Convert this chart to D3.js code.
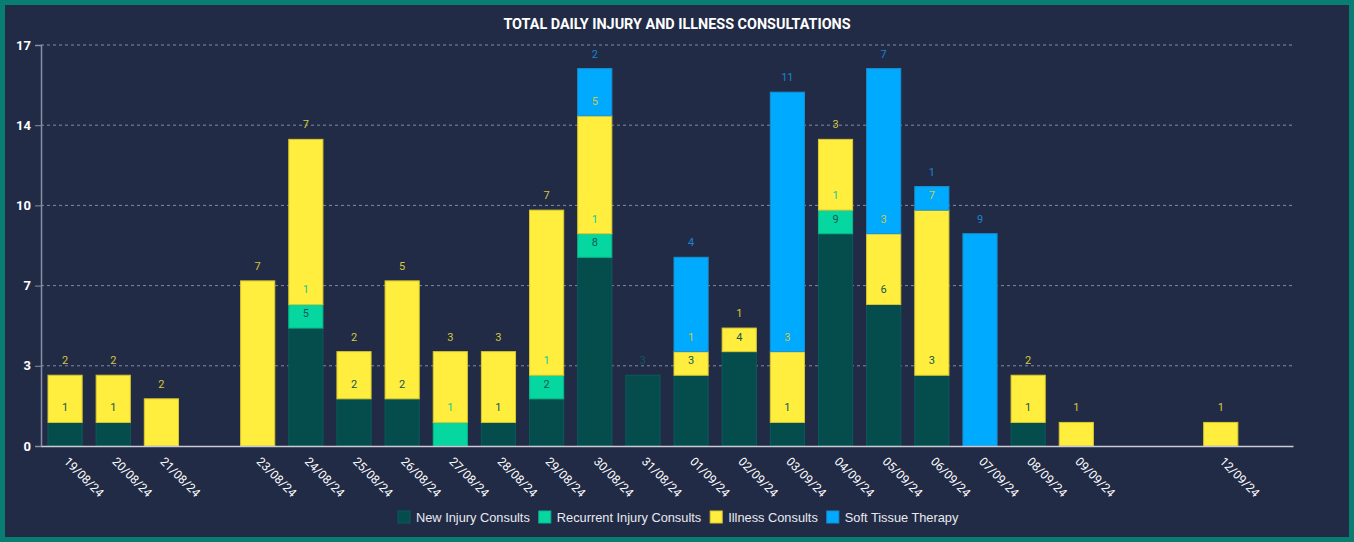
<!DOCTYPE html>
<html><head><meta charset="utf-8">
<script src="https://cdn.jsdelivr.net/npm/d3@7"></script>
<style>
html,body{margin:0;padding:0;background:#222b46;}
svg{display:block;font-family:Roboto,"Liberation Sans",Arial,sans-serif;}
</style></head>
<body>
<svg id="chart" width="1354" height="542"></svg>
<script>
const title = "TOTAL DAILY INJURY AND ILLNESS CONSULTATIONS";
const categories = ["19/08/24","20/08/24","21/08/24","22/08/24","23/08/24","24/08/24","25/08/24","26/08/24","27/08/24","28/08/24","29/08/24","30/08/24","31/08/24","01/09/24","02/09/24","03/09/24","04/09/24","05/09/24","06/09/24","07/09/24","08/09/24","09/09/24","10/09/24","11/09/24","12/09/24","13/09/24"];
const newInjury   = [1,1,0,0,0,5,2,2,0,1,2,8,3,3,4,1,9,6,3,0,1,0,0,0,0,0];
const recurrent   = [0,0,0,0,0,1,0,0,1,0,1,1,0,0,0,0,1,0,0,0,0,0,0,0,0,0];
const illness     = [2,2,2,0,7,7,2,5,3,3,7,5,0,1,1,3,3,3,7,0,2,1,0,0,1,0];
const softTissue  = [0,0,0,0,0,0,0,0,0,0,0,2,0,4,0,11,0,7,1,9,0,0,0,0,0,0];
const seriesNames = ["New Injury Consults","Recurrent Injury Consults","Illness Consults","Soft Tissue Therapy"];
const seriesColors = ["#054c4d","#06d6a0","#ffee3d","#00aaff"];
const strokeColors = ["#0a5a5a","#08b88a","#d9c930","#1a8fd0"];
const labelColors = ["#0d5858","#18c898","#d4c83a","#1a82cc"];
const yMax = 17;
const yTicks = [0,3.4,6.8,10.2,13.6,17];

(function(){
const svg = d3.select("#chart");
const W = 1354, H = 542;
svg.append("rect").attr("x",2.5).attr("y",2.5).attr("width",W-5).attr("height",H-5)
  .attr("fill","#222b46").attr("stroke","#0a7d72").attr("stroke-width",5);

const mLeft = 41, mRight = 1293, mTop = 45, mBottom = 446;
const x = d3.scaleBand().domain(categories).range([mLeft,mRight]).paddingInner(0.27).paddingOuter(0.135);
const y = d3.scaleLinear().domain([0,yMax]).range([mBottom,mTop]);

svg.append("text").attr("x",677).attr("y",28.5).attr("text-anchor","middle")
  .attr("fill","#ffffff").attr("font-size",14.4).attr("font-weight","bold").text(title);

svg.append("g").selectAll("line").data(yTicks.filter(d=>d>0)).join("line")
  .attr("x1",mLeft).attr("x2",mRight).attr("y1",d=>y(d)).attr("y2",d=>y(d))
  .attr("stroke","#9ea3b3").attr("stroke-width",1).attr("stroke-dasharray","3,3").attr("opacity",0.8);

const yAxis = svg.append("g").attr("transform",`translate(${mLeft},0)`)
  .call(d3.axisLeft(y).tickValues(yTicks).tickFormat(d3.format(".0f")).tickSize(6).tickPadding(4));
yAxis.select(".domain").attr("stroke","#8a8fa3").attr("stroke-width",1.5);
yAxis.selectAll(".tick line").attr("stroke","#8a8fa3");
yAxis.selectAll(".tick text").attr("fill","#ffffff").attr("font-size",13).attr("font-weight","bold")
  .attr("font-family","Roboto,'Liberation Sans',Arial,sans-serif");

const stackData = categories.map((c,i)=>{
  const vals=[newInjury[i],recurrent[i],illness[i],softTissue[i]];
  const o={cat:c}; seriesNames.forEach((s,k)=>o[s]=vals[k]); return o;});
const stacked = d3.stack().keys(seriesNames)(stackData);

const gBars = svg.append("g");
stacked.forEach((layer,k)=>{
  gBars.append("g").selectAll("rect").data(layer.filter(d=>d[1]-d[0]>0)).join("rect")
    .attr("x",d=>x(d.data.cat)+0.5).attr("width",x.bandwidth()-1)
    .attr("y",d=>y(d[1])).attr("height",d=>y(d[0])-y(d[1]))
    .attr("fill",seriesColors[k]).attr("stroke",strokeColors[k]).attr("stroke-width",1);
});

const xAxis = svg.append("g").attr("transform",`translate(0,${mBottom})`)
  .call(d3.axisBottom(x).tickSize(0).tickFormat((d,i)=>{
    const tot = newInjury[i]+recurrent[i]+illness[i]+softTissue[i];
    return tot>0 ? d : "";
  }));
xAxis.select(".domain").attr("stroke","#c9ccd4").attr("stroke-width",1.5);
xAxis.selectAll(".tick text").attr("fill","#ffffff").attr("font-size",12)
  .attr("font-family","Roboto,'Liberation Sans',Arial,sans-serif")
  .attr("text-anchor","start").attr("transform","translate(1,19) rotate(45)").attr("dy",0).attr("y",0).attr("x",-4);

stacked.forEach((layer,k)=>{
  svg.append("g").selectAll("text").data(layer.filter(d=>d[1]-d[0]>0)).join("text")
    .attr("x",d=>x(d.data.cat)+x.bandwidth()/2).attr("y",d=>y(d[1])-11)
    .attr("text-anchor","middle").attr("font-size",11).attr("font-weight","normal")
    .attr("fill",labelColors[k]).text(d=>d[1]-d[0]);
});

const lg = svg.append("g");
let lx = 398;
seriesNames.forEach((s,k)=>{
  lg.append("rect").attr("x",lx).attr("y",511).attr("width",12).attr("height",12)
    .attr("fill",seriesColors[k]).attr("stroke",strokeColors[k]);
  const t = lg.append("text").attr("x",lx+18).attr("y",521.5).attr("fill","#e8eaf0").attr("font-size",12.8)
    .attr("font-family","'Liberation Sans',Arial,sans-serif").text(s);
  lx += 18 + t.node().getComputedTextLength() + 9;
});
})();
</script>
</body></html>
